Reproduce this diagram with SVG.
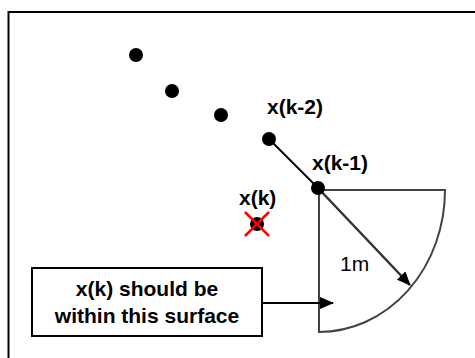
<svg xmlns="http://www.w3.org/2000/svg" width="475" height="358" viewBox="0 0 475 358">
<style>
.lbl{font-family:"Liberation Sans",Arial,sans-serif;font-weight:bold;font-size:21px;fill:#000}
.dot{fill:#000}
</style>
<defs>
<marker id="ah2" markerWidth="14" markerHeight="12" refX="13" refY="6" orient="auto" markerUnits="userSpaceOnUse" viewBox="0 0 14 12">
<path d="M0,0 L14,6 L0,12 z" fill="#000"/>
</marker>
</defs>
<rect width="475" height="358" fill="#fff"/>
<path d="M8.5,360 V12 H480" fill="none" stroke="#000" stroke-width="2"/>
<g id="surface">
<path d="M319,190 H445 A126,142 0 0 1 319,332 Z" fill="#fff" stroke="#444" stroke-width="2"/>
</g>
<g id="connectors">
<line x1="269" y1="139" x2="318" y2="188" stroke="#000" stroke-width="2"/>
<line x1="318" y1="188" x2="410" y2="285" stroke="#333" stroke-width="2.5" marker-end="url(#ah2)"/>
<line x1="262" y1="303" x2="333" y2="303" stroke="#000" stroke-width="2" marker-end="url(#ah2)"/>
</g>
<g id="dot1"><circle class="dot" cx="136" cy="55" r="7"/></g>
<g id="dot2"><circle class="dot" cx="172" cy="91" r="7"/></g>
<g id="dot3"><circle class="dot" cx="221" cy="115" r="7"/></g>
<g id="xk2"><circle class="dot" cx="269" cy="139" r="7"/><text class="lbl" x="267" y="114">x(k-2)</text></g>
<g id="xk1"><circle class="dot" cx="318" cy="188" r="7"/><text class="lbl" x="312" y="170">x(k-1)</text></g>
<g id="xk"><circle class="dot" cx="257" cy="224" r="7"/>
<path d="M245,212 L269,236 M269,212 L245,236" stroke="#f00" stroke-width="2.5"/>
<text class="lbl" x="239" y="205">x(k)</text></g>
<g id="radius"><text x="340" y="271" font-family="Liberation Sans,Arial,sans-serif" font-size="21" fill="#000">1m</text></g>
<g id="note">
<rect x="32" y="268" width="230" height="68" fill="#fff" stroke="#000" stroke-width="2"/>
<text class="lbl" x="147" y="296" text-anchor="middle">x(k) should be</text>
<text class="lbl" x="147" y="323" text-anchor="middle">within this surface</text>
</g>
</svg>
